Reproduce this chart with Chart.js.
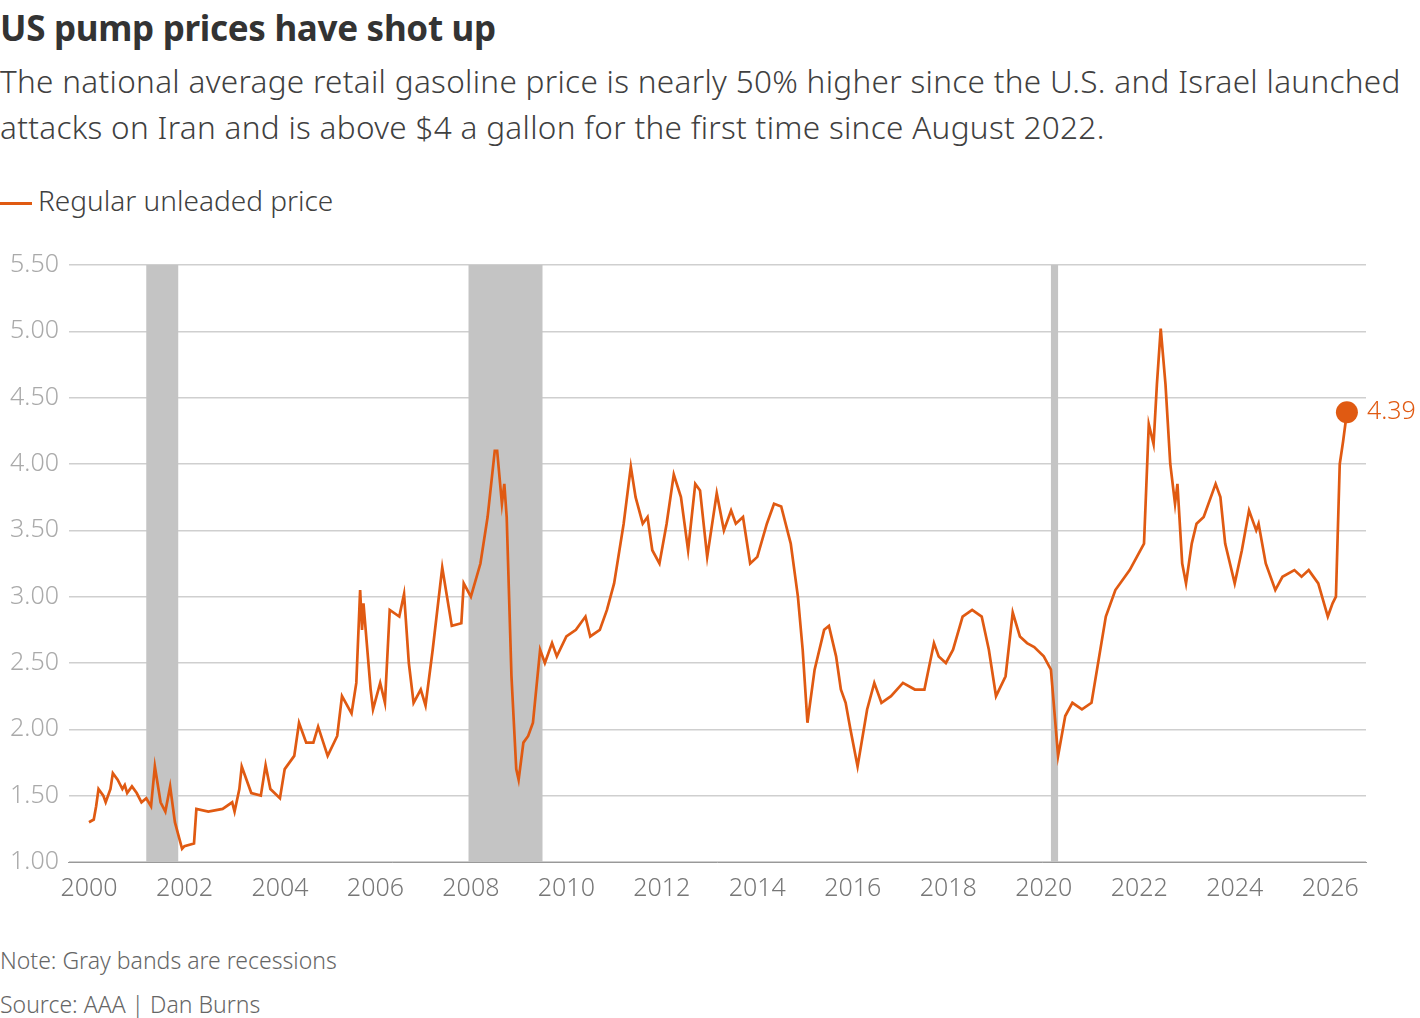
<!DOCTYPE html>
<html><head><meta charset="utf-8">
<script src="https://cdn.jsdelivr.net/npm/chart.js@4"></script>
<style>
body{margin:0;background:#fff;font-family:"Noto Sans",sans-serif;color:#404040;width:1420px;height:1018px;position:relative;overflow:hidden}
#t{position:absolute;left:0;top:4px;font-size:35px;font-weight:700;color:#333;letter-spacing:-0.3px}
#s{position:absolute;left:0;top:58px;font-size:31.5px;line-height:46px;color:#404040;width:1418px;font-weight:300;letter-spacing:0.3px}
#lg{position:absolute;left:0;top:181px;font-size:28px;color:#404040;font-weight:300}
#lg span{display:inline-block;width:32px;height:3px;background:#e05a12;vertical-align:middle;margin-right:6px}
#n{position:absolute;left:0;top:944px;font-size:23px;color:#666;font-weight:300}
#src{position:absolute;left:0;top:988px;font-size:23px;color:#666;font-weight:300}
#w{position:absolute;left:0;top:240px;width:1420px;height:668px}
</style></head><body>
<div id="t">US pump prices have shot up</div>
<div id="s">The national average retail gasoline price is nearly 50% higher since the U.S. and Israel launched attacks on Iran and is above $4 a gallon for the first time since August 2022.</div>
<div id="lg"><span></span>Regular unleaded price</div>
<div id="w"><canvas id="c"></canvas></div>
<div id="n">Note: Gray bands are recessions</div>
<div id="src">Source: AAA | Dan Burns</div>
<script>
const years=[2000,2000.1,2000.15,2000.2,2000.3,2000.35,2000.45,2000.5,2000.6,2000.7,2000.75,2000.8,2000.9,2001.0,2001.1,2001.2,2001.3,2001.38,2001.5,2001.6,2001.7,2001.8,2001.95,
2002.0,2002.2,2002.25,2002.5,2002.8,2003.0,2003.05,2003.15,2003.2,2003.4,2003.6,2003.7,2003.8,2004.0,2004.1,2004.3,2004.4,2004.55,2004.7,2004.8,2005.0,2005.2,2005.3,2005.5,2005.6,2005.68,2005.72,2005.75,2005.9,2005.95,2006.1,2006.2,2006.3,2006.5,2006.6,2006.7,2006.8,2006.95,2007.05,2007.2,2007.4,2007.5,2007.6,2007.8,2007.85,2008.0,2008.2,2008.35,2008.5,2008.55,2008.65,2008.7,2008.75,2008.85,2008.95,2009.0,2009.1,2009.2,2009.3,2009.45,2009.55,2009.7,2009.8,2010.0,2010.2,2010.4,2010.5,2010.7,2010.85,2011.0,2011.2,2011.35,2011.45,2011.6,2011.7,2011.8,2011.95,2012.1,2012.25,2012.4,2012.55,2012.7,2012.8,2012.95,2013.15,2013.3,2013.45,2013.55,2013.7,2013.85,2014.0,2014.2,2014.35,2014.5,2014.7,2014.85,2014.95,2015.05,2015.2,2015.4,2015.5,2015.65,2015.75,2015.85,2015.95,2016.1,2016.3,2016.45,2016.6,2016.8,2017.05,2017.3,2017.5,2017.7,2017.8,2017.95,2018.1,2018.3,2018.5,2018.7,2018.85,2019.0,2019.2,2019.35,2019.5,2019.65,2019.8,2020.0,2020.15,2020.3,2020.45,2020.6,2020.8,2021.0,2021.3,2021.5,2021.8,2021.95,2022.1,2022.2,2022.3,2022.37,2022.45,2022.55,2022.65,2022.75,2022.8,2022.9,2022.98,2023.1,2023.2,2023.35,2023.6,2023.7,2023.8,2024.0,2024.15,2024.3,2024.45,2024.5,2024.65,2024.85,2025.0,2025.25,2025.4,2025.55,2025.75,2025.95,2026.05,2026.12,2026.2,2026.27,2026.35];
const prices=[1.30,1.32,1.42,1.55,1.50,1.45,1.55,1.67,1.62,1.55,1.58,1.52,1.57,1.52,1.45,1.48,1.42,1.72,1.45,1.38,1.57,1.30,1.10,
1.12,1.14,1.40,1.38,1.40,1.45,1.38,1.55,1.72,1.52,1.50,1.73,1.55,1.48,1.70,1.80,2.05,1.90,1.90,2.02,1.80,1.95,2.25,2.12,2.35,3.05,2.75,2.95,2.30,2.15,2.35,2.20,2.90,2.85,3.02,2.50,2.20,2.30,2.18,2.60,3.22,3.00,2.78,2.80,3.10,3.00,3.25,3.60,4.10,4.10,3.70,3.85,3.60,2.40,1.70,1.62,1.90,1.95,2.05,2.60,2.50,2.65,2.55,2.70,2.75,2.85,2.70,2.75,2.90,3.10,3.55,3.98,3.75,3.55,3.60,3.35,3.25,3.55,3.92,3.75,3.35,3.85,3.80,3.30,3.78,3.50,3.65,3.55,3.60,3.25,3.30,3.55,3.70,3.68,3.40,3.00,2.60,2.05,2.45,2.75,2.78,2.55,2.30,2.20,2.00,1.72,2.15,2.35,2.20,2.25,2.35,2.30,2.30,2.65,2.55,2.50,2.60,2.85,2.90,2.85,2.60,2.25,2.40,2.88,2.70,2.65,2.62,2.55,2.45,1.80,2.10,2.20,2.15,2.20,2.85,3.05,3.20,3.30,3.40,4.30,4.15,4.60,5.02,4.60,4.00,3.70,3.85,3.25,3.10,3.40,3.55,3.60,3.85,3.75,3.40,3.10,3.35,3.65,3.50,3.55,3.25,3.05,3.15,3.20,3.15,3.20,3.10,2.85,2.95,3.00,4.00,4.17,4.39];
const recessionStart=[2001.2,2007.95,2020.15];
const recessionEnd=[2001.87,2009.5,2020.3];
const yTicks=[1.00,1.50,2.00,2.50,3.00,3.50,4.00,4.50,5.00,5.50];
const xTicks=[2000,2002,2004,2006,2008,2010,2012,2014,2016,2018,2020,2022,2024,2026];
const ORANGE='#e05a12';
const bands={id:'bands',beforeDatasetsDraw(ch){const {ctx,chartArea:a,scales:{x}}=ch;ctx.save();ctx.fillStyle='#c4c4c4';
recessionStart.forEach((s,i)=>{const x0=x.getPixelForValue(s),x1=x.getPixelForValue(recessionEnd[i]);ctx.fillRect(x0,a.top,Math.max(x1-x0,6),a.bottom-a.top);});ctx.restore();}};
const endLabel={id:'endLabel',afterDatasetsDraw(ch){const m=ch.getDatasetMeta(0).data;const p=m[m.length-1];const ctx=ch.ctx;ctx.save();
ctx.fillStyle=ORANGE;ctx.beginPath();ctx.arc(p.x,p.y,11,0,Math.PI*2);ctx.fill();ctx.font='300 25px "Noto Sans"';ctx.textBaseline='middle';ctx.fillText(prices[prices.length-1].toFixed(2),p.x+20,p.y);ctx.restore();}};
new Chart(document.getElementById('c'),{type:'line',
data:{datasets:[{data:years.map((y,i)=>({x:y,y:prices[i]})),borderColor:ORANGE,borderWidth:2.7,pointRadius:0,tension:0}]},
options:{responsive:true,maintainAspectRatio:false,animation:false,layout:{padding:{right:54,top:4}},
plugins:{legend:{display:false},tooltip:{enabled:false}},
scales:{x:{type:'linear',min:1999.58,max:2026.75,afterBuildTicks(s){s.ticks=xTicks.map(v=>({value:v}));},
grid:{display:false},border:{color:'#999'},ticks:{color:'#777',font:{size:25,family:'Noto Sans',weight:300},maxRotation:0,padding:4,callback:v=>String(v)}},
y:{min:1,max:5.5,afterBuildTicks(s){s.ticks=yTicks.map(v=>({value:v}));},grid:{color:'#cfcfcf',lineWidth:1.5,drawTicks:false},border:{display:false},
ticks:{color:'#aaa',font:{size:25,family:'Noto Sans',weight:300},padding:10,callback:v=>v.toFixed(2)}}}},
plugins:[bands,endLabel]});
</script></body></html>
